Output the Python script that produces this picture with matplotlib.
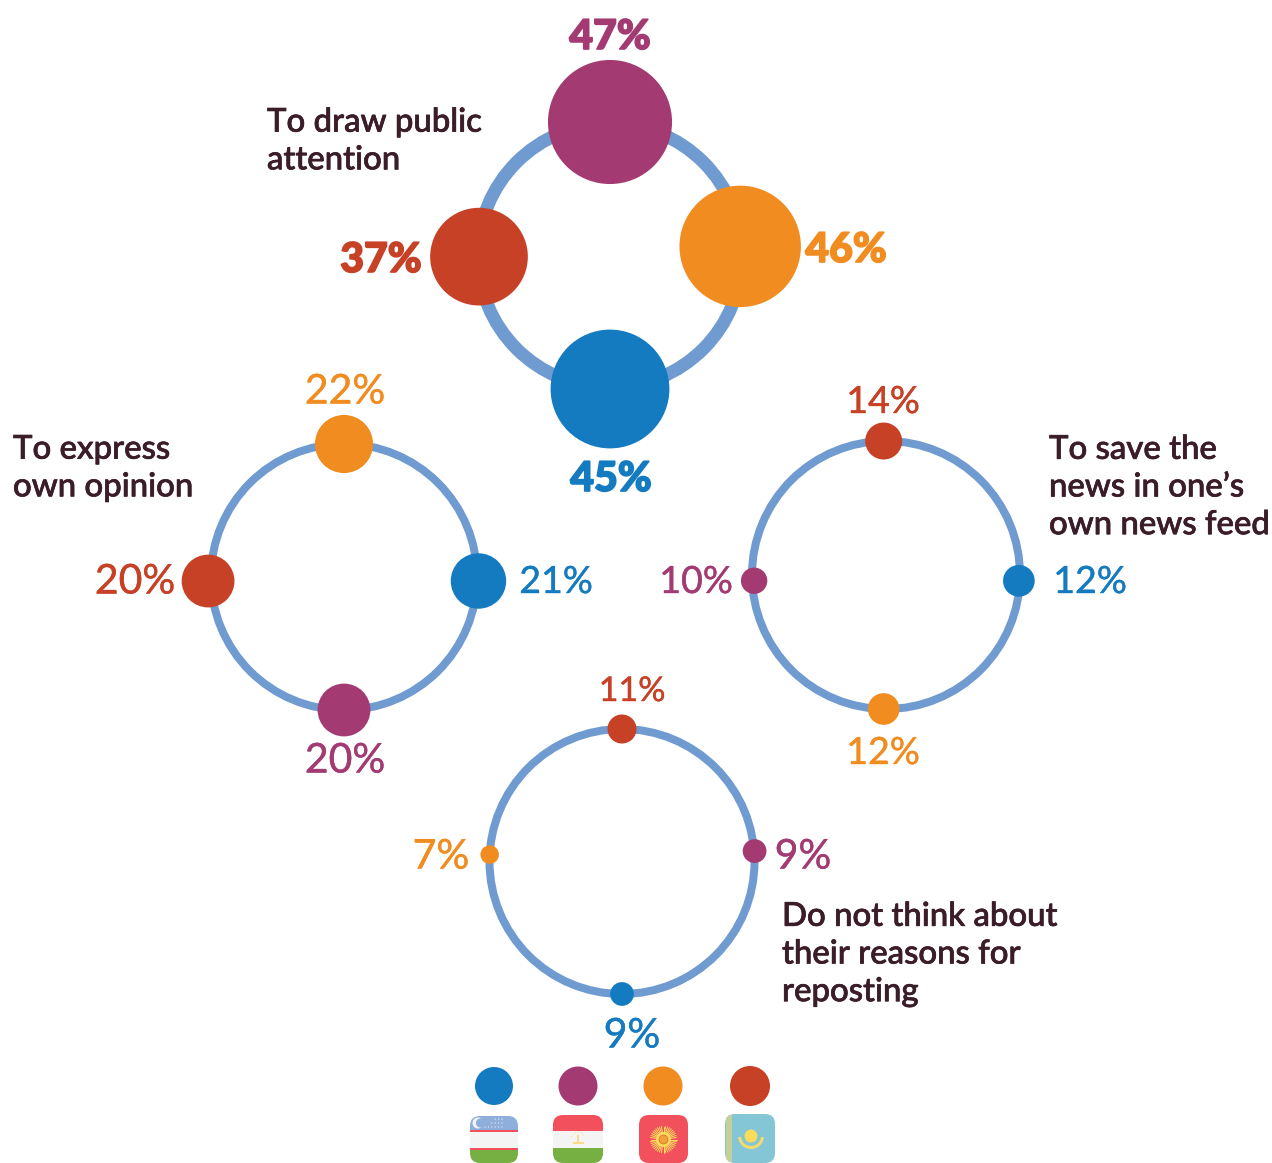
import matplotlib
matplotlib.use('Agg')
import matplotlib.pyplot as plt
import matplotlib.patheffects as pe
from matplotlib.patches import Circle, FancyBboxPatch, Rectangle, Wedge
import numpy as np

plt.rcParams['font.family'] = ['Lato', 'DejaVu Sans']

# Data, one value per country: Uzbekistan, Tajikistan, Kyrgyzstan, Kazakhstan
colors = ['#157bc1', '#a33b72', '#f18c21', '#c64125']
attention = [45, 47, 46, 37]
opinion = [21, 20, 22, 20]
save_news = [12, 10, 12, 14]
no_reason = [9, 9, 7, 11]

RING = '#6f9bd1'
DARK = '#3b1d2a'
SCALE = 1.32  # dot radius (px) per percent

fig = plt.figure(figsize=(12.72, 11.63), dpi=100)
ax = fig.add_axes([0, 0, 1, 1])
ax.set_xlim(0, 1272)
ax.set_ylim(1163, 0)
ax.set_aspect('equal')
ax.axis('off')


def ring(cx, cy, r, lw, values, angles, dists, labels, weight, stroke):
    ax.add_patch(Circle((cx, cy), r, fc='none', ec=RING, lw=lw * 0.72, zorder=1))
    for v, a, d, c, (lx, ly) in zip(values, angles, dists, colors, labels):
        t = np.deg2rad(a)
        ax.add_patch(Circle((cx + d * np.cos(t), cy - d * np.sin(t)), v * SCALE, fc=c, ec='none', zorder=2))
        # Lato's 1 is much wider than the original font's, so those labels get a smaller size
        size = 29.5 - 2.5 * str(v).count('1')
        txt = ax.text(lx, ly + 2, f'{v}%', color=c, fontsize=size, fontweight=weight, ha='center', va='center')
        txt.set_path_effects([pe.withStroke(linewidth=stroke, foreground=c)])


ring(610, 255.5, 132, 13, attention, [-90, 90, 4, 180.5], [133.5, 133.5, 130.5, 131],
     [(611, 477), (610, 35), (846, 248), (381, 258)], 'black', 1.2)
ring(344, 577, 133, 8, opinion, [-1.7, -90, 90, 181.7], [134.5, 133, 133, 136],
     [(556, 580), (345, 759), (345, 390), (135, 580)], 'normal', 0.3)
ring(886, 575, 134, 8, save_news, [-2.5, 182.5, -91, 91], [133, 132, 134, 134],
     [(1090, 580), (696, 580), (883, 751), (883, 400)], 'normal', 0.3)
ring(622, 861.5, 132.5, 8, no_reason, [-90, 4.5, 177, 90], [132.5, 133, 132.5, 132.5],
     [(632, 1034), (803, 855), (441, 855), (632, 689)], 'normal', 0.3)


def caption(x, y, s):
    txt = ax.text(x, y + 2.5, s, color=DARK, fontsize=23.7, fontweight='medium', ha='left', va='center', linespacing=1.32)
    txt.set_path_effects([pe.withStroke(linewidth=0.5, foreground=DARK)])


caption(267, 139, 'To draw public\nattention')
caption(13, 466, 'To express\nown opinion')
caption(1049, 485, 'To save the\nnews in one\u2019s\nown news feed')
caption(782, 952, 'Do not think about\ntheir reasons for\nreposting')


# legend
def flag_box(x0, y0, x1, y1):
    return FancyBboxPatch((x0 + 10, y0 + 10), x1 - x0 - 20, y1 - y0 - 20,
                          boxstyle='round,pad=10,rounding_size=10',
                          fc='none', ec='none', transform=ax.transData)


def clipped(artist, box):
    ax.add_artist(artist)
    artist.set_clip_path(box)
    return artist


def uzbekistan(x0, y0, x1, y1):
    box = flag_box(x0, y0, x1, y1)
    ax.add_patch(box)
    w, h = x1 - x0, y1 - y0
    clipped(Rectangle((x0, y0), w, 15, fc='#8eaedb', ec='none'), box)
    clipped(Rectangle((x0, y0 + 15), w, 17, fc='#f4f4f4', ec='none'), box)
    clipped(Rectangle((x0, y0 + 32), w, h - 32, fc='#76b043', ec='none'), box)
    clipped(Rectangle((x0, y0 + 14), w, 1.8, fc='#f2505d', ec='none'), box)
    clipped(Rectangle((x0, y0 + 32), w, 1.8, fc='#f2505d', ec='none'), box)
    ax.add_patch(Circle((x0 + 8, y0 + 7), 5.5, fc='#f4f4f4', ec='none'))
    ax.add_patch(Circle((x0 + 10.5, y0 + 7), 4.6, fc='#8eaedb', ec='none'))
    for i, n in enumerate([3, 4, 6]):
        for j in range(n):
            ax.add_patch(Circle((x0 + 32 - j * 3.4, y0 + 3 + i * 4), 0.6, fc='#f4f4f4', ec='none'))


def tajikistan(x0, y0, x1, y1):
    box = flag_box(x0, y0, x1, y1)
    ax.add_patch(box)
    w, h = x1 - x0, y1 - y0
    clipped(Rectangle((x0, y0), w, 16, fc='#f2505d', ec='none'), box)
    clipped(Rectangle((x0, y0 + 16), w, 17, fc='#f4f4f4', ec='none'), box)
    clipped(Rectangle((x0, y0 + 33), w, h - 33, fc='#76b043', ec='none'), box)
    cx, cy = (x0 + x1) / 2, y0 + 24
    ax.add_patch(Rectangle((cx - 1, cy - 4), 2, 8, fc='#fbd98a', ec='none'))
    ax.add_patch(Rectangle((cx - 5.5, cy + 3), 11, 2.2, fc='#fbd98a', ec='none'))
    for a in np.arange(200, 350, 25):
        t = np.deg2rad(a)
        ax.add_patch(Circle((cx + 7 * np.cos(t), cy + 7 * np.sin(t)), 0.6, fc='#fbd98a', ec='none'))


def kyrgyzstan(x0, y0, x1, y1):
    box = flag_box(x0, y0, x1, y1)
    box.set_facecolor('#f2505d')
    ax.add_patch(box)
    cx, cy = (x0 + x1) / 2, (y0 + y1) / 2 + 0.5
    for a in np.arange(0, 360, 9):
        t = np.deg2rad(a)
        ax.plot([cx, cx + 13 * np.cos(t)], [cy, cy + 13 * np.sin(t)], color='#fbdc5a', lw=0.7, zorder=3)
    ax.add_patch(Circle((cx, cy), 7.5, fc='#fbdc5a', ec='none', zorder=4))
    ax.add_patch(Circle((cx, cy), 4.5, fc='#f2a03c', ec='#c9702f', lw=0.5, zorder=5))


def kazakhstan(x0, y0, x1, y1):
    box = flag_box(x0, y0, x1, y1)
    box.set_facecolor('#84c6d6')
    ax.add_patch(box)
    clipped(Rectangle((x0 + 1, y0), 6, y1 - y0, fc='#c4d09a', ec='none'), box)
    cx, cy = (x0 + x1) / 2 + 1, y0 + 22
    ax.add_patch(Circle((cx, cy), 6.5, fc='#fbdc5a', ec='none'))
    ax.add_patch(Wedge((cx, cy), 13, 5, 175, width=3, fc='#f3dc6a', ec='none'))


legend_x = [494, 578, 663, 750]
legend_r = [19, 19.5, 19.5, 20]
for x, r, c in zip(legend_x, legend_r, colors):
    ax.add_patch(Circle((x, 1086), r, fc=c, ec='none'))

uzbekistan(470, 1116, 518, 1163)
tajikistan(553, 1115, 603, 1163)
kyrgyzstan(639, 1115, 688, 1163)
kazakhstan(725, 1114, 775, 1163)

fig.savefig('out.png', dpi=100)
